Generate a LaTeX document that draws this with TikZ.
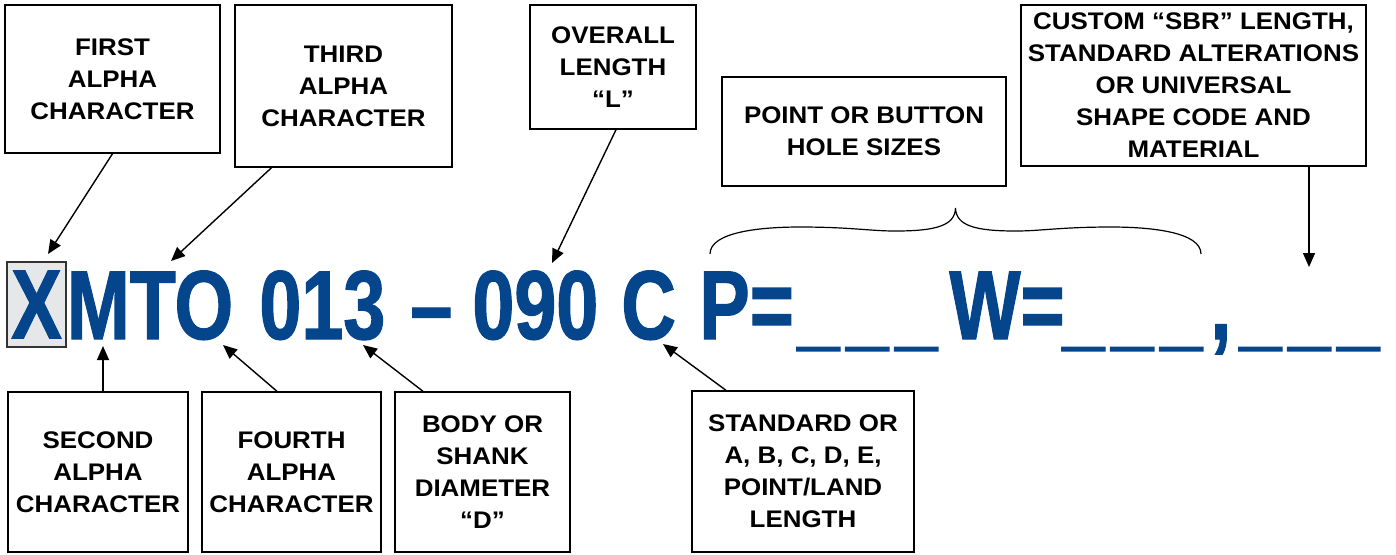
\documentclass[tikz,border=0pt]{standalone}
\usepackage{fontspec}
\setmainfont{Liberation Sans}
\newfontfamily\codefont{Liberation Sans}[FakeStretch=0.77,FakeBold=1.2]
\newfontfamily\labelfont{Liberation Sans}[FakeStretch=1.08]
\usetikzlibrary{arrows.meta}

\definecolor{codeblue}{RGB}{4,69,140}
\definecolor{xgray}{RGB}{230,231,233}

\tikzset{
  infobox/.style={draw,line width=0.7pt,align=center,inner sep=0pt,
    font=\labelfont\bfseries\fontsize{12}{16}\selectfont},
  code/.style={anchor=base west,inner sep=0pt,text=codeblue,
    font=\codefont\bfseries\fontsize{49}{49}\selectfont},
  xbox/.style={draw=black!80,fill=xgray,line width=0.7pt,inner sep=0pt,
    minimum width=29.5pt,minimum height=42.5pt,text=codeblue,
    font=\codefont\bfseries\fontsize{49}{49}\selectfont},
  pointer/.style={-{Triangle[length=7pt,width=6pt]},line width=0.7pt},
}

\begin{document}
\begin{tikzpicture}[x=0.5pt,y=-0.5pt]
  \useasboundingbox (0,0) rectangle (1396,554);
  \pgfmathsetmacro\base{339}

% boxes above the code
  \node[infobox,minimum width=107.5pt,minimum height=74pt] (first) at (112.5,79) {FIRST\\ALPHA\\CHARACTER};
  \node[infobox,minimum width=108.5pt,minimum height=81pt] (third) at (343.5,86) {THIRD\\ALPHA\\CHARACTER};
  \node[infobox,minimum width=83pt,minimum height=62pt] (overall) at (613,67) {OVERALL\\LENGTH\\“L”};
  \node[infobox,minimum width=142pt,minimum height=54.5pt] (point) at (864,131.5) {POINT OR BUTTON\\HOLE SIZES};
  \node[infobox,minimum width=172.5pt,minimum height=80.5pt] (custom) at (1193.5,85.5) {CUSTOM “SBR” LENGTH,\\STANDARD ALTERATIONS\\OR UNIVERSAL\\SHAPE CODE AND\\MATERIAL};

% boxes below the code
  \node[infobox,minimum width=90pt,minimum height=80pt] (second) at (98,472) {SECOND\\ALPHA\\CHARACTER};
  \node[infobox,minimum width=89.5pt,minimum height=80pt] (fourth) at (291.5,472) {FOURTH\\ALPHA\\CHARACTER};
  \node[infobox,minimum width=87.5pt,minimum height=80pt] (body) at (482.5,472) {BODY OR\\SHANK\\DIAMETER\\“D”};
  \node[infobox,minimum width=111pt,minimum height=80.5pt] (standard) at (803,471.5) {STANDARD OR\\A, B, C, D, E,\\POINT/LAND\\LENGTH};

% the part number
  \node[xbox] (x) at (36.5,304.5) {X};
  \node[code] (mto) at (66.5,\base) {MTO};
  \node[code] (n013) at (259,\base) {013};
  \node[code] (dash) at (410,\base) {\textendash};
  \node[code] (n090) at (472,\base) {090};
  \node[code] (letc) at (621,\base) {C};
  \node[code] (peq) at (699,\base) {P=};
  \node[code] (blanka) at (797,\base) {\_\kern3.5pt\_\kern3.5pt\_};
  \node[code] (weq) at (949,\base) {W=};
  \node[code] (blankb) at (1062,\base) {\_\kern3.5pt\_\kern3.5pt\_};
  \node[code] (comma) at (1210,\base) {,};
  \node[code] (blankc) at (1239,\base) {\_\kern3.5pt\_\kern3.5pt\_};

% where the arrows land
  \coordinate (tipx) at (48,254);
  \coordinate (tipt) at (171,261);
  \coordinate (tipl) at (552,263);
  \coordinate (tipend) at (1309,267);
  \coordinate (tipm) at (103,346);
  \coordinate (tipo) at (223,345);
  \coordinate (tipd) at (363,345);
  \coordinate (tipc) at (663,344);

  \draw[pointer] (first.south) -- (tipx);
  \draw[pointer] ([xshift=-36pt]third.south) -- (tipt);
  \draw[pointer] ([xshift=1.5pt]overall.south) -- (tipl);
  \draw[pointer] ([xshift=57.75pt]custom.south) -- (tipend);
  \draw[pointer] ([xshift=2.5pt]second.north) -- (tipm);
  \draw[pointer] ([xshift=-7.25pt]fourth.north) -- (tipo);
  \draw[pointer] ([xshift=-29.75pt]body.north) -- (tipd);
  \draw[pointer] ([xshift=-38.5pt]standard.north) -- (tipc);

% brace over the sizes
  \draw[line width=0.6pt] (710,254) .. controls (710,232) and (760,227) .. (800,227)
    .. controls (850,227) and (870,231) .. (895,231)
    .. controls (935,231) and (955,226) .. (955.5,208)
    .. controls (956,226) and (976,231) .. (1016,231)
    .. controls (1041,231) and (1061,227) .. (1111,227)
    .. controls (1151,227) and (1201,232) .. (1201,254);
\end{tikzpicture}
\end{document}
